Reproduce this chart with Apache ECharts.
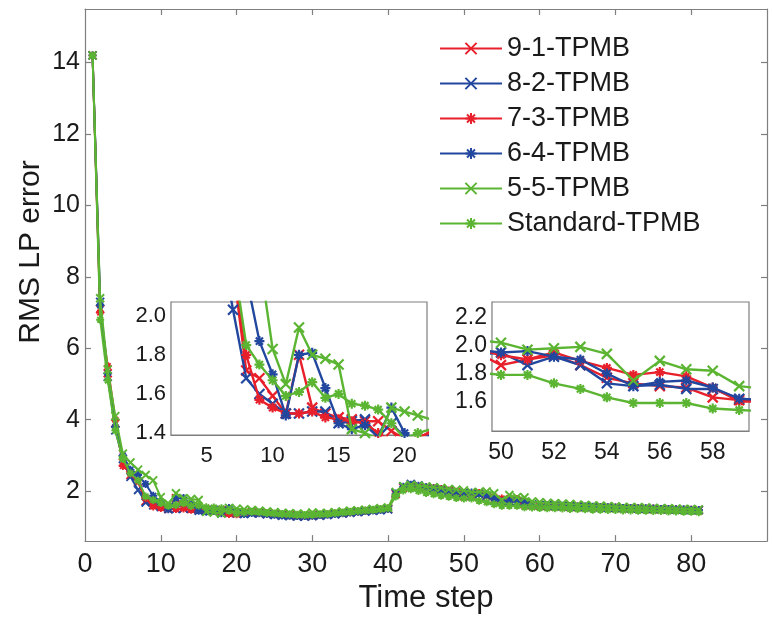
<!DOCTYPE html>
<html>
<head>
<meta charset="utf-8">
<script src="https://cdn.jsdelivr.net/npm/echarts@6/dist/echarts.min.js"></script>
<style>html,body{margin:0;padding:0;background:#fff}#c{width:772px;height:619px}</style>
</head>
<body>
<div id="c"></div>
<script>
const timeSteps = [1,2,3,4,5,6,7,8,9,10,11,12,13,14,15,16,17,18,19,20,21,22,23,24,25,26,27,28,29,30,31,32,33,34,35,36,37,38,39,40,41,42,43,44,45,46,47,48,49,50,51,52,53,54,55,56,57,58,59,60,61,62,63,64,65,66,67,68,69,70,71,72,73,74,75,76,77,78,79,80,81];

const names = ['9-1-TPMB','8-2-TPMB','7-3-TPMB','6-4-TPMB','5-5-TPMB','Standard-TPMB'];

const s91 = [14.2,7.1,5.3,3.9,2.8,2.45,2.25,1.72,1.68,1.59,1.50,1.80,1.53,1.50,1.48,1.47,1.46,1.46,1.41,1.37,1.38,
  1.40,1.38,1.36,1.35,1.33,1.32,1.31,1.30,1.31,1.32,1.34,1.36,1.38,1.40,1.42,1.44,1.46,1.48,1.50,
  1.92,2.10,2.16,2.13,2.10,2.08,2.05,2.01,1.96,
  1.86,1.90,1.93,1.86,1.77,1.73,1.71,1.70,1.63,1.61,
  1.60,1.59,1.58,1.58,1.57,1.56,1.56,1.55,1.55,1.54,1.53,1.53,1.52,1.52,1.51,1.50,1.50,1.49,1.49,1.48,1.48,1.47];
const s82 = [14.2,7.3,5.2,3.7,2.9,2.4,2.03,1.68,1.60,1.55,1.50,1.50,1.51,1.51,1.45,1.46,1.47,1.38,1.45,1.38,1.36,
  1.38,1.37,1.35,1.33,1.31,1.30,1.29,1.29,1.30,1.31,1.33,1.35,1.37,1.39,1.41,1.43,1.45,1.46,1.49,
  1.95,2.13,2.20,2.16,2.12,2.08,2.03,1.98,1.93,
  1.95,1.86,1.92,1.86,1.73,1.71,1.72,1.69,1.69,1.62,
  1.61,1.60,1.59,1.58,1.58,1.57,1.56,1.56,1.55,1.54,1.54,1.53,1.52,1.52,1.51,1.51,1.50,1.49,1.49,1.48,1.47,1.47];
const s73 = [14.2,7.0,5.5,4.0,2.7,2.5,2.3,1.80,1.57,1.53,1.50,1.50,1.51,1.48,1.47,1.46,1.45,1.40,1.36,1.35,1.37,
  1.41,1.39,1.37,1.35,1.34,1.32,1.31,1.31,1.32,1.33,1.35,1.37,1.39,1.41,1.43,1.45,1.47,1.49,1.51,
  1.90,2.08,2.14,2.12,2.10,2.09,2.06,2.02,1.98,
  1.93,1.90,1.95,1.89,1.84,1.79,1.81,1.78,1.70,1.60,
  1.60,1.60,1.59,1.58,1.57,1.57,1.56,1.55,1.55,1.54,1.54,1.53,1.53,1.52,1.51,1.51,1.50,1.50,1.49,1.48,1.48,1.47];
const s64 = [14.2,7.2,5.3,3.8,3.0,2.6,2.45,2.2,1.87,1.70,1.49,1.80,1.81,1.63,1.45,1.42,1.44,1.38,1.53,1.40,1.36,
  1.39,1.38,1.36,1.34,1.32,1.31,1.30,1.30,1.31,1.33,1.34,1.36,1.38,1.40,1.42,1.44,1.46,1.47,1.50,
  1.93,2.12,2.18,2.15,2.11,2.07,2.04,2.00,1.97,
  1.95,1.96,1.92,1.90,1.80,1.71,1.74,1.75,1.70,1.62,
  1.61,1.60,1.59,1.59,1.58,1.57,1.57,1.56,1.55,1.55,1.54,1.53,1.53,1.52,1.52,1.51,1.50,1.50,1.49,1.49,1.48,1.47];
const s55 = [14.2,7.4,5.4,4.1,3.05,2.8,2.6,2.45,2.3,1.83,1.65,1.94,1.80,1.78,1.75,1.42,1.40,1.37,1.53,1.51,1.49,
  1.47,1.45,1.43,1.41,1.39,1.38,1.37,1.36,1.40,1.38,1.39,1.41,1.43,1.45,1.46,1.48,1.50,1.52,1.54,
  1.98,2.14,2.17,2.15,2.13,2.11,2.09,2.06,2.04,
  2.02,1.97,1.98,1.99,1.94,1.75,1.89,1.83,1.82,1.71,
  1.69,1.67,1.66,1.65,1.64,1.62,1.61,1.60,1.59,1.58,1.57,1.56,1.55,1.55,1.54,1.53,1.52,1.52,1.51,1.50,1.50,1.49];
const sStd = [14.2,6.8,5.1,3.7,2.9,2.5,2.3,1.85,1.75,1.67,1.59,1.61,1.66,1.58,1.60,1.55,1.54,1.52,1.45,1.37,1.40,
  1.42,1.41,1.39,1.37,1.36,1.35,1.34,1.33,1.34,1.35,1.36,1.38,1.40,1.42,1.44,1.46,1.48,1.50,1.52,
  1.85,2.02,2.05,2.00,1.95,1.91,1.87,1.84,1.81,
  1.79,1.79,1.73,1.69,1.63,1.59,1.59,1.59,1.55,1.54,
  1.53,1.52,1.52,1.51,1.50,1.50,1.49,1.48,1.48,1.47,1.47,1.46,1.46,1.45,1.45,1.44,1.44,1.43,1.43,1.42,1.42,1.41];

const mainXTicks = [0,10,20,30,40,50,60,70,80];
const mainYTicks = [2,4,6,8,10,12,14];
const inset1XTicks = [5,10,15,20];
const inset1YTicks = [1.4,1.6,1.8,2.0];
const inset2XTicks = [50,52,54,56,58];
const inset2YTicks = [1.6,1.8,2.0,2.2];

const RED = '#E8202B', BLUE = '#22479E', GREEN = '#5BB532';
const X_SYM = 'path://M0,0L10,10M10,0L0,10';
const STAR_SYM = 'path://M5,0L5,10M0,5L10,5M1.46,1.46L8.54,8.54M8.54,1.46L1.46,8.54';
const seriesList = [s91, s82, s73, s64, s55, sStd];
const colors = [RED, BLUE, RED, BLUE, GREEN, GREEN];
const symbols = [X_SYM, X_SYM, STAR_SYM, STAR_SYM, X_SYM, STAR_SYM];

const FONT = '"Liberation Sans", Arial, Helvetica, sans-serif';
const AX = '#7f7f7f';
const TXT = '#1a1a1a';

function pairs(vals){ return timeSteps.map((t,i)=>[t, vals[i]]); }

function xAx(gi, min, max, labelVals, tickVals, fs, opts){
  return Object.assign({
    type:'value', gridIndex: gi, min, max, position:'bottom',
    axisLine:{show:true, onZero:false, lineStyle:{color:AX, width:1.2}},
    axisTick:{show:true, inside:true, length:6, customValues: tickVals, lineStyle:{color:AX, width:1.2}},
    axisLabel:{show:true, customValues: labelVals, color:TXT, fontSize:fs, fontFamily:FONT, margin:10},
    splitLine:{show:false}
  }, opts||{});
}
function yAx(gi, min, max, labelVals, tickVals, fs, fmt, opts){
  return Object.assign({
    type:'value', gridIndex: gi, min, max, position:'left',
    axisLine:{show:true, onZero:false, lineStyle:{color:AX, width:1.2}},
    axisTick:{show:true, inside:true, length:6, customValues: tickVals, lineStyle:{color:AX, width:1.2}},
    axisLabel:{show:true, customValues: labelVals, color:TXT, fontSize:fs, fontFamily:FONT, margin:5, formatter: fmt},
    splitLine:{show:false}
  }, opts||{});
}

const xAxes = [
  xAx(0, 0, 90, mainXTicks, [10,20,30,40,50,60,70,80], 27, {
    name:'Time step', nameLocation:'middle', nameGap:31,
    nameTextStyle:{fontSize:31, color:TXT, fontFamily:FONT}
  }),
  xAx(0, 0, 90, [], [10,20,30,40,50,60,70,80], 27, {position:'top', axisLabel:{show:false}}),
  xAx(1, 2.3, 21.7, inset1XTicks, inset1XTicks, 22, {}),
  xAx(2, 49.66, 59.37, inset2XTicks, inset2XTicks, 23, {})
];
const yAxes = [
  yAx(0, 0.6, 15.5, mainYTicks, mainYTicks, 25, v=>String(v)),
  yAx(0, 0.6, 15.5, [], mainYTicks, 25, v=>String(v), {position:'right', axisLabel:{show:false}}),
  yAx(1, 1.39, 2.07, inset1YTicks, inset1YTicks, 22, v=>v.toFixed(1)),
  yAx(2, 1.39, 2.31, inset2YTicks, inset2YTicks, 23, v=>v.toFixed(1))
];

const series = [];
const axisPairs = [[0,0,8,2,1.9],[2,2,10,2.4,2.2],[3,3,10,2.4,2.2]];
axisPairs.forEach(([xi, yi, ss, lw, bw], k)=>{
  seriesList.forEach((vals, i)=>{
    series.push({
      type:'line', name:names[i], xAxisIndex:xi, yAxisIndex:yi,
      data: pairs(vals), symbol: symbols[i], symbolSize: ss, symbolKeepAspect:true,
      showSymbol:true, clip:true,
      lineStyle:{color:colors[i], width:lw},
      itemStyle:{color:colors[i], borderColor:colors[i], borderWidth:bw},
      emphasis:{disabled:true},
      z: 10 + i + (k>0?20:0)
    });
  });
});

const chart = echarts.init(document.getElementById('c'), null, {renderer:'canvas'});
chart.setOption({
  animation:false,
  backgroundColor:'#fff',
  grid:[
    {left:85, top:9, width:682, height:538, show:false},
    {left:171, top:302, width:256, height:133, show:true, backgroundColor:'#fff', borderColor:AX, borderWidth:1.2, z:5},
    {left:492, top:302, width:257, height:129, show:true, backgroundColor:'#fff', borderColor:AX, borderWidth:1.2, z:5}
  ],
  xAxis: xAxes,
  yAxis: yAxes,
  legend:{
    data: names, orient:'vertical', left:439, top:35, padding:0,
    itemWidth:62, itemHeight:14, itemGap:8,
    textStyle:{fontSize:27, color:TXT, fontFamily:FONT},
    selectedMode:false
  },
  graphic:[
    {type:'text', x:31, y:252, rotation:Math.PI/2,
     style:{text:'RMS LP error', font:'30px ' + FONT, fill:TXT, textAlign:'center', textVerticalAlign:'middle'}}
  ],
  series
});
</script>
</body>
</html>
